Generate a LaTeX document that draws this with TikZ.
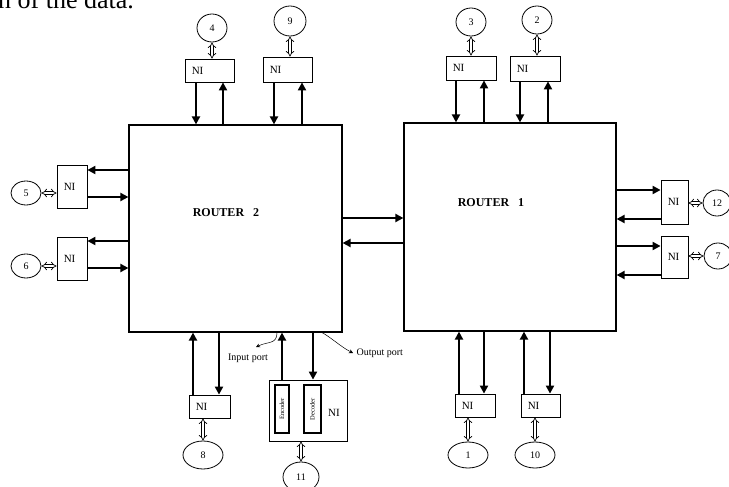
\documentclass[tikz,border=0pt]{standalone}
\usepackage{fontspec}
\setmainfont{Liberation Serif}
\usetikzlibrary{arrows.meta, shapes.geometric, positioning, calc}

\begin{document}
\begin{tikzpicture}[
    x=1pt, y=-1pt,
    router/.style={rectangle, draw, line width=1.2pt, inner sep=0pt},
    rlabel/.style={font=\bfseries\fontsize{12}{14}\selectfont},
    nitext/.style={anchor=west, inner sep=0pt, xshift=7pt, font=\fontsize{11}{13}\selectfont},
    ni/.style={rectangle, draw, line width=0.8pt, inner sep=0pt, label={[nitext]west:NI}},
    core/.style={ellipse, draw, line width=0.8pt, inner sep=0pt, font=\fontsize{10}{12}\selectfont},
    codec/.style={rectangle, draw, line width=1.3pt, inner sep=0pt, minimum height=48pt, font=\fontsize{6.5}{7}\selectfont},
    arrow/.style={-{Triangle[length=8pt, width=8pt]}, line width=2.6pt},
    link/.style={{Implies}-{Implies}, double, double distance=2.2pt, line width=0.7pt},
    port/.style={font=\fontsize{10}{12}\selectfont},
    pointer/.style={-{Stealth[length=4pt, width=4pt]}, line width=0.5pt}
]
\useasboundingbox (0,0) rectangle (729,487);

% Page text
\node[anchor=base west, inner sep=0pt, font=\fontsize{26}{30}\selectfont] (page) at (-2,9) {n of the data.};

% Routers
\node[router, minimum width=213pt, minimum height=207pt] (r2) at (235.5,228.5) {};
\node[router, minimum width=212pt, minimum height=208pt] (r1) at (510,227) {};
\node[rlabel] (r2lbl) at (226,213) {ROUTER\hspace{9pt}2};
\node[rlabel] (r1lbl) at (491,203) {ROUTER\hspace{9pt}1};

% Router 2: top
\node[ni, minimum width=49pt, minimum height=23pt] (ni4) at (209.5,70.5) {};
\node[ni, minimum width=49pt, minimum height=25pt] (ni9) at (287.5,69.5) {};
\node[core, minimum width=30pt, minimum height=28pt] (c4) at (212,28) {4};
\node[core, minimum width=32pt, minimum height=30pt] (c9) at (290,21) {9};
\draw[link] (c4.south) -- (c4.south |- ni4.north);
\draw[link] (c9.south) -- (c9.south |- ni9.north);
\draw[arrow] ([xshift=-13.5pt]ni4.south) -- ([xshift=-13.5pt]ni4.south |- r2.north);
\draw[arrow] ([xshift=13.5pt]ni4.south |- r2.north) -- ([xshift=13.5pt]ni4.south);
\draw[arrow] ([xshift=-13.5pt]ni9.south) -- ([xshift=-13.5pt]ni9.south |- r2.north);
\draw[arrow] ([xshift=14.5pt]ni9.south |- r2.north) -- ([xshift=14.5pt]ni9.south);

% Router 2: left
\node[ni, minimum width=30pt, minimum height=43pt] (ni5) at (72,186.5) {};
\node[ni, minimum width=30pt, minimum height=43pt] (ni6) at (72,258.5) {};
\node[core, minimum width=30pt, minimum height=24pt] (c5) at (26,193) {5};
\node[core, minimum width=30pt, minimum height=24pt] (c6) at (26,266) {6};
\draw[link] (c5.east) -- (c5.east -| ni5.west);
\draw[link] (c6.east) -- (c6.east -| ni6.west);
\draw[arrow] ([yshift=16.5pt]ni5.east -| r2.west) -- ([yshift=16.5pt]ni5.east);
\draw[arrow] ([yshift=-10.5pt]ni5.east) -- ([yshift=-10.5pt]ni5.east -| r2.west);
\draw[arrow] ([yshift=17.5pt]ni6.east -| r2.west) -- ([yshift=17.5pt]ni6.east);
\draw[arrow] ([yshift=-9.5pt]ni6.east) -- ([yshift=-9.5pt]ni6.east -| r2.west);

% Router 2: bottom
\node[ni, minimum width=41pt, minimum height=23pt] (ni8) at (209.5,406.5) {};
\node[core, minimum width=40pt, minimum height=28pt] (c8) at (203,455) {8};
\draw[link] (c8.north) -- (c8.north |- ni8.south);
\draw[arrow] ([xshift=-16.5pt]ni8.north) -- ([xshift=-16.5pt]ni8.north |- r2.south);
\draw[arrow] ([xshift=9.5pt]ni8.north |- r2.south) -- ([xshift=9.5pt]ni8.north);

\node[rectangle, draw, line width=0.8pt, minimum width=78pt, minimum height=61pt] (ni11) at (308,410.5) {};
\node[codec, minimum width=14pt] (enc) at (282,409) {\rotatebox{90}{Encoder}};
\node[codec, minimum width=17pt] (dec) at (312.5,409) {\rotatebox{90}{Decoder}};
\node[font=\fontsize{11}{13}\selectfont] (ni11lbl) at (334,413) {NI};
\node[core, minimum width=36pt, minimum height=30pt] (c11) at (301,477) {11};
\draw[link] (c11.north) -- (c11.north |- ni11.south);
\draw[arrow] ([xshift=-26pt]ni11.north) -- ([xshift=-26pt]ni11.north |- r2.south);
\draw[arrow] ([xshift=5pt]ni11.north |- r2.south) -- ([xshift=5pt]ni11.north);

% Port labels
\node[port] (inlbl) at (248,358) {Input port};
\node[port, anchor=west] (outlbl) at (353,353) {Output port};
\draw[pointer] ([xshift=41.5pt]r2.south) .. controls +(0,12) and +(12,-6) .. ([xshift=8pt,yshift=3pt]inlbl.north);
\draw[pointer] ([xshift=86.5pt]r2.south) .. controls +(8,4) and +(-12,-6) .. (outlbl.west);

% Between routers
\draw[arrow] ([yshift=10.5pt]r2.east) -- ([yshift=10.5pt]r2.east -| r1.west);
\draw[arrow] ([yshift=-14.5pt]r2.east -| r1.west) -- ([yshift=-14.5pt]r2.east);

% Router 1: top
\node[ni, minimum width=50pt, minimum height=24pt] (ni3) at (471,68) {};
\node[ni, minimum width=50pt, minimum height=25pt] (ni2) at (535,68.5) {};
\node[core, minimum width=30pt, minimum height=28pt] (c3) at (471,22) {3};
\node[core, minimum width=30pt, minimum height=28pt] (c2) at (537,20) {2};
\draw[link] (c3.south) -- (c3.south |- ni3.north);
\draw[link] (c2.south) -- (c2.south |- ni2.north);
\draw[arrow] ([xshift=-15pt]ni3.south) -- ([xshift=-15pt]ni3.south |- r1.north);
\draw[arrow] ([xshift=13pt]ni3.south |- r1.north) -- ([xshift=13pt]ni3.south);
\draw[arrow] ([xshift=-15pt]ni2.south) -- ([xshift=-15pt]ni2.south |- r1.north);
\draw[arrow] ([xshift=13pt]ni2.south |- r1.north) -- ([xshift=13pt]ni2.south);

% Router 1: right
\node[ni, minimum width=27pt, minimum height=44pt] (ni12) at (674.5,202) {};
\node[ni, minimum width=27pt, minimum height=42pt] (ni7) at (674.5,257) {};
\node[core, minimum width=28pt, minimum height=26pt] (c12) at (717,203) {12};
\node[core, minimum width=28pt, minimum height=26pt] (c7) at (718,256) {7};
\draw[link] (c12.west) -- (c12.west -| ni12.east);
\draw[link] (c7.west) -- (c7.west -| ni7.east);
\draw[arrow] ([yshift=12pt]ni12.west -| r1.east) -- ([yshift=12pt]ni12.west);
\draw[arrow] ([yshift=-17pt]ni12.west) -- ([yshift=-17pt]ni12.west -| r1.east);
\draw[arrow] ([yshift=11pt]ni7.west -| r1.east) -- ([yshift=11pt]ni7.west);
\draw[arrow] ([yshift=-18pt]ni7.west) -- ([yshift=-18pt]ni7.west -| r1.east);

% Router 1: bottom
\node[ni, minimum width=40pt, minimum height=23pt] (ni1) at (475,405.5) {};
\node[ni, minimum width=39pt, minimum height=23pt] (ni10) at (540.5,405.5) {};
\node[core, minimum width=40pt, minimum height=26pt] (c1) at (468,455) {1};
\node[core, minimum width=40pt, minimum height=26pt] (c10) at (535,455) {10};
\draw[link] (c1.north) -- (c1.north |- ni1.south);
\draw[link] (c10.north) -- (c10.north |- ni10.south);
\draw[arrow] ([xshift=-16pt]ni1.north) -- ([xshift=-16pt]ni1.north |- r1.south);
\draw[arrow] ([xshift=9pt]ni1.north |- r1.south) -- ([xshift=9pt]ni1.north);
\draw[arrow] ([xshift=-16.5pt]ni10.north) -- ([xshift=-16.5pt]ni10.north |- r1.south);
\draw[arrow] ([xshift=9.5pt]ni10.north |- r1.south) -- ([xshift=9.5pt]ni10.north);

\end{tikzpicture}
\end{document}
